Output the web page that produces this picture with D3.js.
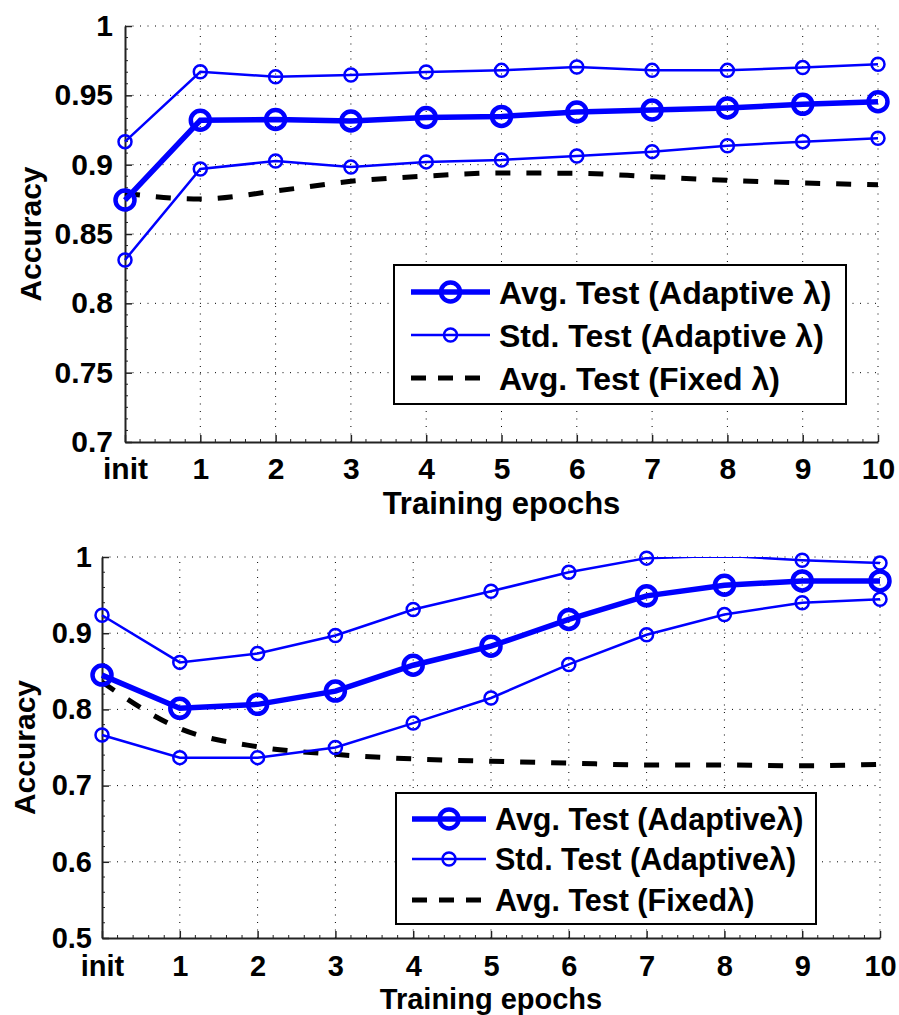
<!DOCTYPE html>
<html>
<head>
<meta charset="utf-8">
<script src="https://cdn.jsdelivr.net/npm/d3@7"></script>
<style>
    body { margin: 0; background: #fff; }
    svg text { font-family: "Liberation Sans", Arial, sans-serif; font-weight: bold; fill: #000; }
</style>
</head>
<body>
<svg id="chart" width="899" height="1015"></svg>
<script>
// x categories shared by both panels
var epochs = ["init", "1", "2", "3", "4", "5", "6", "7", "8", "9", "10"];

// top panel
var topAvgAdaptive = [0.8745, 0.932, 0.9326, 0.9315, 0.934, 0.9348, 0.938, 0.9394, 0.9409, 0.9435, 0.9454];
var topStdUpper = [0.9166, 0.967, 0.9634, 0.9647, 0.9668, 0.968, 0.9704, 0.968, 0.968, 0.970, 0.9724];
var topStdLower = [0.8313, 0.8969, 0.9026, 0.8983, 0.902, 0.9034, 0.9063, 0.9094, 0.9137, 0.9166, 0.919];
var topAvgFixed = [0.8793, 0.8752, 0.881, 0.888, 0.8918, 0.894, 0.8938, 0.8913, 0.8887, 0.8868, 0.8855];
var topYTicks = [0.7, 0.75, 0.8, 0.85, 0.9, 0.95, 1];
var topLegend = ["Avg. Test (Adaptive \u03bb)", "Std. Test (Adaptive \u03bb)", "Avg. Test (Fixed \u03bb)"];

// bottom panel
var botAvgAdaptive = [0.845, 0.8014, 0.8066, 0.824, 0.858, 0.883, 0.918, 0.949, 0.963, 0.9686, 0.9686];
var botStdUpper = [0.9236, 0.8617, 0.8734, 0.897, 0.931, 0.955, 0.980, 0.9985, 1.0015, 0.9957, 0.992];
var botStdLower = [0.7664, 0.7367, 0.7367, 0.750, 0.782, 0.815, 0.859, 0.898, 0.9245, 0.940, 0.9446];
var botAvgFixed = [0.836, 0.775, 0.751, 0.741, 0.735, 0.732, 0.7296, 0.727, 0.727, 0.726, 0.728];
var botYTicks = [0.5, 0.6, 0.7, 0.8, 0.9, 1];
var botLegend = ["Avg. Test (Adaptive\u03bb)", "Std. Test (Adaptive\u03bb)", "Avg. Test (Fixed\u03bb)"];

var blue = "#0000ff";
var svg = d3.select("#chart");

function drawPanel(cfg, idx) {
    var g = svg.append("g");
    var x = d3.scalePoint().domain(epochs).range([cfg.left, cfg.right]);
    var y = d3.scaleLinear().domain(cfg.yDomain).range([cfg.bottom, cfg.top]);

    // clip for lines
    var clipId = "clip" + idx;
    svg.append("clipPath").attr("id", clipId)
        .append("rect")
        .attr("x", cfg.left - 2).attr("y", cfg.top)
        .attr("width", cfg.right - cfg.left + 4).attr("height", cfg.bottom - cfg.top);

    // dotted grid
    var grid = g.append("g").attr("stroke", "#000").attr("stroke-width", 1).attr("stroke-dasharray", "1,6.5");
    epochs.forEach(function (e, i) {
        if (i == 0) return;
        grid.append("line").attr("x1", x(e)).attr("x2", x(e)).attr("y1", cfg.bottom).attr("y2", cfg.top);
    });
    cfg.yTicks.forEach(function (t, i) {
        if (i == 0) return;
        grid.append("line").attr("x1", cfg.left).attr("x2", cfg.right).attr("y1", y(t)).attr("y2", y(t));
    });

    // minor ticks
    var minor = g.append("g").attr("stroke", "#222").attr("stroke-width", 1);
    var step = x.step();
    for (var i = 0; i < epochs.length - 1; i++) {
        for (var k = 1; k < 5; k++) {
            var px = x(epochs[i]) + step * k / 5;
            minor.append("line").attr("x1", px).attr("x2", px).attr("y1", cfg.bottom).attr("y2", cfg.bottom - 3);
        }
    }
    for (var j = 0; j < cfg.yTicks.length - 1; j++) {
        for (var k = 1; k < cfg.yMinor; k++) {
            var v = cfg.yTicks[j] + (cfg.yTicks[j + 1] - cfg.yTicks[j]) * k / cfg.yMinor;
            minor.append("line").attr("x1", cfg.left).attr("x2", cfg.left + 3).attr("y1", y(v)).attr("y2", y(v));
        }
    }

    // axes
    var xAxis = g.append("g").attr("transform", "translate(0," + cfg.bottom + ")")
        .call(d3.axisBottom(x).tickSizeInner(-7).tickSizeOuter(0).tickPadding(cfg.xPad));
    xAxis.selectAll("text").attr("font-size", cfg.tickFs).attr("dy", "0.71em");
    var yAxis = g.append("g").attr("transform", "translate(" + cfg.left + ",0)")
        .call(d3.axisLeft(y).tickValues(cfg.yTicks).tickFormat(d3.format("")).tickSizeInner(-7).tickSizeOuter(0).tickPadding(cfg.yPad));
    yAxis.selectAll("text").attr("font-size", cfg.tickFs);
    g.selectAll(".domain").attr("stroke", "#222").attr("stroke-width", 2);
    g.selectAll(".tick line").attr("stroke", "#222").attr("stroke-width", 1.5);

    // axis titles
    g.append("text").attr("x", (cfg.left + cfg.right) / 2).attr("y", cfg.xTitleY)
        .attr("text-anchor", "middle").attr("font-size", cfg.titleFs).text("Training epochs");
    g.append("text")
        .attr("transform", "translate(" + cfg.yTitleX + "," + (cfg.top + cfg.bottom) / 2 + ") rotate(-90)")
        .attr("text-anchor", "middle").attr("font-size", 30).text("Accuracy");

    // series
    var line = d3.line()
        .x(function (d, i) { return x(epochs[i]); })
        .y(function (d) { return y(d); });
    var smooth = d3.line()
        .x(function (d, i) { return x(epochs[i]); })
        .y(function (d) { return y(d); })
        .curve(d3.curveMonotoneX);

    var plot = g.append("g").attr("clip-path", "url(#" + clipId + ")");
    plot.append("path").attr("d", smooth(cfg.fixed)).attr("fill", "none")
        .attr("stroke", "#000").attr("stroke-width", 5).attr("stroke-dasharray", "15,16");

    [cfg.stdUpper, cfg.stdLower].forEach(function (s) {
        plot.append("path").attr("d", line(s)).attr("fill", "none")
            .attr("stroke", blue).attr("stroke-width", 2.5);
    });
    plot.append("path").attr("d", line(cfg.avg)).attr("fill", "none")
        .attr("stroke", blue).attr("stroke-width", 5.5);

    [cfg.stdUpper, cfg.stdLower].forEach(function (s) {
        var pts = s.map(function (d, i) { return { e: epochs[i], v: d }; })
            .filter(function (p) { return p.v <= cfg.yDomain[1]; });
        g.selectAll(null).data(pts).enter().append("circle")
            .attr("cx", function (p) { return x(p.e); })
            .attr("cy", function (p) { return y(p.v); })
            .attr("r", 6.5).attr("fill", "none").attr("stroke", blue).attr("stroke-width", 2.5);
    });
    g.selectAll(null).data(cfg.avg).enter().append("circle")
        .attr("cx", function (d, i) { return x(epochs[i]); })
        .attr("cy", function (d) { return y(d); })
        .attr("r", 9.5).attr("fill", "none").attr("stroke", blue).attr("stroke-width", 4.5);

    // legend
    var L = cfg.legend;
    var lg = g.append("g");
    lg.append("rect").attr("x", L.x).attr("y", L.y).attr("width", L.w).attr("height", L.h)
        .attr("fill", "#fff").attr("stroke", "#000").attr("stroke-width", 2);
    var styles = [
        { w: 5.5, r: 9.5, sw: 4.5, c: blue, dash: null },
        { w: 2.5, r: 6.5, sw: 2.5, c: blue, dash: null },
        { w: 5, r: 0, sw: 0, c: "#000", dash: "15,12" }
    ];
    cfg.legendText.forEach(function (t, i) {
        var cy = L.rows[i];
        var st = styles[i];
        lg.append("line").attr("x1", L.x1).attr("x2", L.x2).attr("y1", cy).attr("y2", cy)
            .attr("stroke", st.c).attr("stroke-width", st.w).attr("stroke-dasharray", st.dash);
        if (st.r > 0) {
            lg.append("circle").attr("cx", (L.x1 + L.x2) / 2).attr("cy", cy).attr("r", st.r)
                .attr("fill", "none").attr("stroke", st.c).attr("stroke-width", st.sw);
        }
        lg.append("text").attr("x", L.tx).attr("y", cy).attr("dy", "0.36em")
            .attr("font-size", L.fs).text(t);
    });
}

drawPanel({
    left: 125, right: 878, top: 26, bottom: 442,
    yDomain: [0.7, 1], yTicks: topYTicks, yMinor: 6,
    avg: topAvgAdaptive, stdUpper: topStdUpper, stdLower: topStdLower, fixed: topAvgFixed,
    xPad: 16, yPad: 12, tickFs: 30, titleFs: 31,
    xTitleY: 514, yTitleX: 41,
    legendText: topLegend,
    legend: { x: 394, y: 265, w: 452, h: 139, rows: [292, 335, 378], x1: 411, x2: 490, tx: 499, fs: 32 }
}, 0);

drawPanel({
    left: 102, right: 880, top: 557, bottom: 938,
    yDomain: [0.5, 1], yTicks: botYTicks, yMinor: 5,
    avg: botAvgAdaptive, stdUpper: botStdUpper, stdLower: botStdLower, fixed: botAvgFixed,
    xPad: 17, yPad: 10, tickFs: 29, titleFs: 29,
    xTitleY: 1009, yTitleX: 35,
    legendText: botLegend,
    legend: { x: 396, y: 793, w: 420, h: 131, rows: [819, 859, 900], x1: 412, x2: 486, tx: 495, fs: 30.5 }
}, 1);
</script>
</body>
</html>
